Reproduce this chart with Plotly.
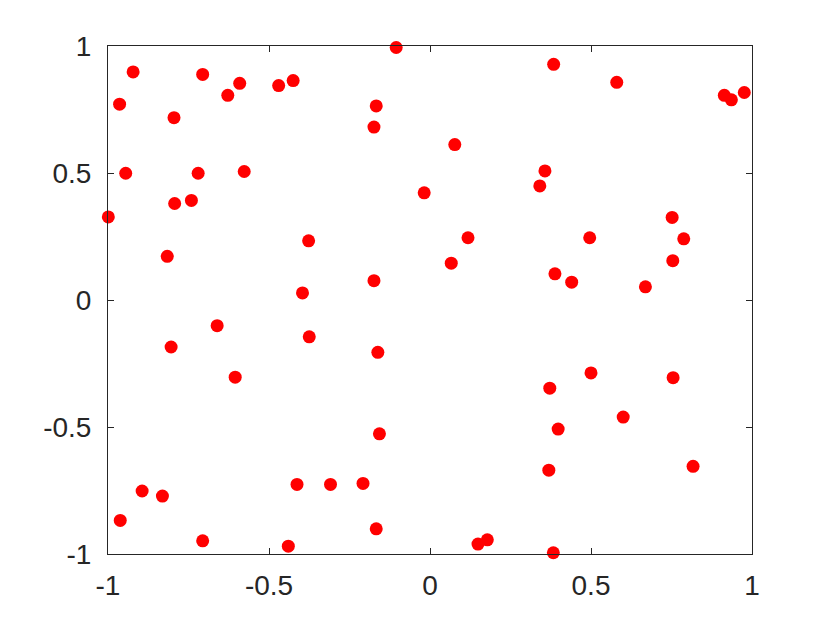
import plotly.graph_objects as go

x_vals = [-0.999, -0.964, -0.922, -0.945, -0.795, -0.793, -0.741, -0.816,
          -0.706, -0.628, -0.591, -0.720, -0.577, -0.470, -0.425, -0.105,
          -0.167, -0.174, -0.018, -0.377, -0.174, -0.396,
          0.384, 0.580, 0.914, 0.936, 0.976, 0.077, 0.357, 0.341, 0.118,
          0.066, 0.496, 0.752, 0.788, 0.754, 0.388, 0.440, 0.669,
          -0.661, -0.804, -0.375, -0.162, -0.605, -0.157, -0.894, -0.831,
          -0.413, -0.309, -0.208, -0.962, -0.706, -0.440, -0.167,
          0.500, 0.755, 0.372, 0.600, 0.398, 0.369, 0.817, 0.149, 0.178, 0.383]
y_vals = [0.327, 0.771, 0.898, 0.499, 0.718, 0.380, 0.392, 0.172,
          0.888, 0.806, 0.853, 0.499, 0.506, 0.844, 0.864, 0.994,
          0.764, 0.681, 0.422, 0.233, 0.076, 0.028,
          0.928, 0.857, 0.806, 0.788, 0.817, 0.612, 0.508, 0.449, 0.245,
          0.145, 0.245, 0.325, 0.241, 0.155, 0.103, 0.070, 0.052,
          -0.101, -0.185, -0.145, -0.206, -0.304, -0.527, -0.752, -0.772,
          -0.726, -0.726, -0.722, -0.868, -0.948, -0.969, -0.901,
          -0.287, -0.306, -0.347, -0.461, -0.508, -0.670, -0.655, -0.961, -0.944, -0.995]

tick_vals = [-1, -0.5, 0, 0.5, 1]
tick_text = ["-1", "-0.5", "0", "0.5", "1"]

axis_color = "#262626"

fig = go.Figure(go.Scatter(
    x=x_vals, y=y_vals, mode="markers",
    marker=dict(color="#ff0000", size=13, line=dict(width=0)),
    cliponaxis=False,
))

common = dict(
    range=[-1, 1], tickvals=tick_vals, ticktext=tick_text,
    showgrid=False, zeroline=False, showline=True, linecolor=axis_color,
    linewidth=1, mirror="ticks", ticks="inside", ticklen=6, tickwidth=1,
    tickcolor=axis_color, automargin=False,
    tickfont=dict(family="Liberation Sans, Arial, sans-serif", size=28, color=axis_color),
)

fig.update_xaxes(**common, ticklabelstandoff=6)
fig.update_yaxes(**common, ticklabelstandoff=10)

fig.update_layout(
    width=822, height=615,
    margin=dict(l=100, r=78, t=38, b=69),
    paper_bgcolor="white", plot_bgcolor="white",
    showlegend=False,
)

fig.write_html("out.html")
